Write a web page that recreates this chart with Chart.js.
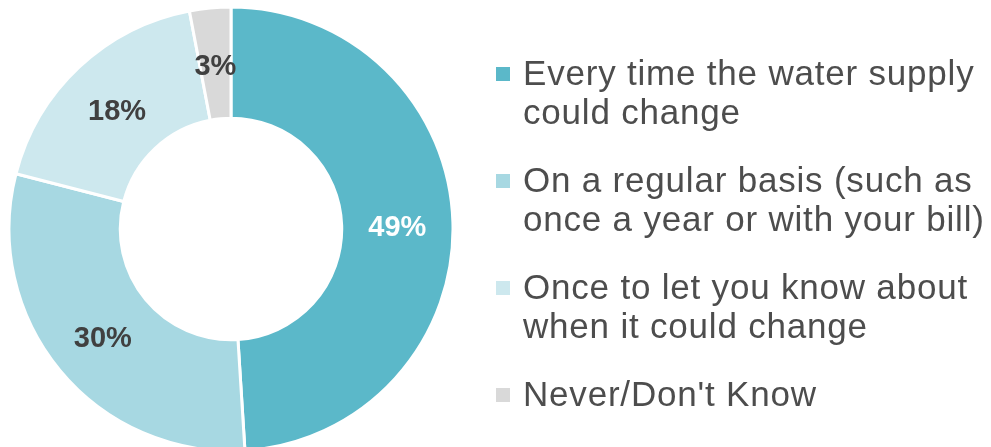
<!DOCTYPE html>
<html>
<head>
<meta charset="utf-8">
<script src="https://cdn.jsdelivr.net/npm/chart.js@4"></script>
<style>
  html, body { margin: 0; padding: 0; background: #fff; overflow: hidden; }
  #wrap { position: relative; width: 991px; height: 447px; }
  #legend { position: absolute; left: 496px; top: 53px; font-family: "Liberation Sans", Arial, sans-serif;
            font-size: 35px; letter-spacing: 0.8px; line-height: 39px; color: #4d4d4d; }
  .item { position: relative; padding-left: 27px; margin-bottom: 29px; white-space: nowrap; }
  .box { position: absolute; left: 0; top: 14px; width: 14px; height: 14px; }
</style>
</head>
<body>
<div id="wrap">
  <canvas id="chart1" width="991" height="447"></canvas>
  <div id="legend"></div>
</div>
<script>
const labels = [
  ["Every time the water supply", "could change"],
  ["On a regular basis (such as", "once a year or with your bill)"],
  ["Once to let you know about", "when it could change"],
  ["Never/Don't Know"]
];
const values = [49, 30, 18, 3];
const colors = ['#5bb8c9', '#a7d8e2', '#cde8ee', '#d9d9d9'];
const labelColors = ['#ffffff', '#404040', '#404040', '#404040'];

// percentage labels drawn in the middle of each ring segment
const sliceLabels = {
  id: 'sliceLabels',
  afterDatasetsDraw(chart) {
    const ctx = chart.ctx;
    const meta = chart.getDatasetMeta(0);
    ctx.save();
    ctx.font = 'bold 29px "Liberation Sans", Arial, sans-serif';
    ctx.textAlign = 'center';
    ctx.textBaseline = 'middle';
    meta.data.forEach((arc, i) => {
      const p = arc.tooltipPosition();
      ctx.fillStyle = labelColors[i];
      ctx.fillText(values[i] + '%', p.x, p.y + 4);
    });
    ctx.restore();
  }
};

new Chart(document.getElementById('chart1'), {
  type: 'doughnut',
  data: {
    labels: labels.map(l => l.join(' ')),
    datasets: [{
      data: values,
      backgroundColor: colors,
      borderColor: '#ffffff',
      borderWidth: 3
    }]
  },
  options: {
    responsive: false,
    animation: false,
    radius: 222,
    cutout: 108,
    layout: { padding: { top: 11, bottom: 0, left: 0, right: 529 } },
    plugins: {
      legend: { display: false },
      tooltip: { enabled: false }
    }
  },
  plugins: [sliceLabels]
});

const legend = document.getElementById('legend');
labels.forEach((l, i) => {
  const item = document.createElement('div');
  item.className = 'item';
  const box = document.createElement('span');
  box.className = 'box';
  box.style.background = colors[i];
  item.appendChild(box);
  l.forEach(line => {
    const d = document.createElement('div');
    d.textContent = line;
    item.appendChild(d);
  });
  legend.appendChild(item);
});
</script>
</body>
</html>
